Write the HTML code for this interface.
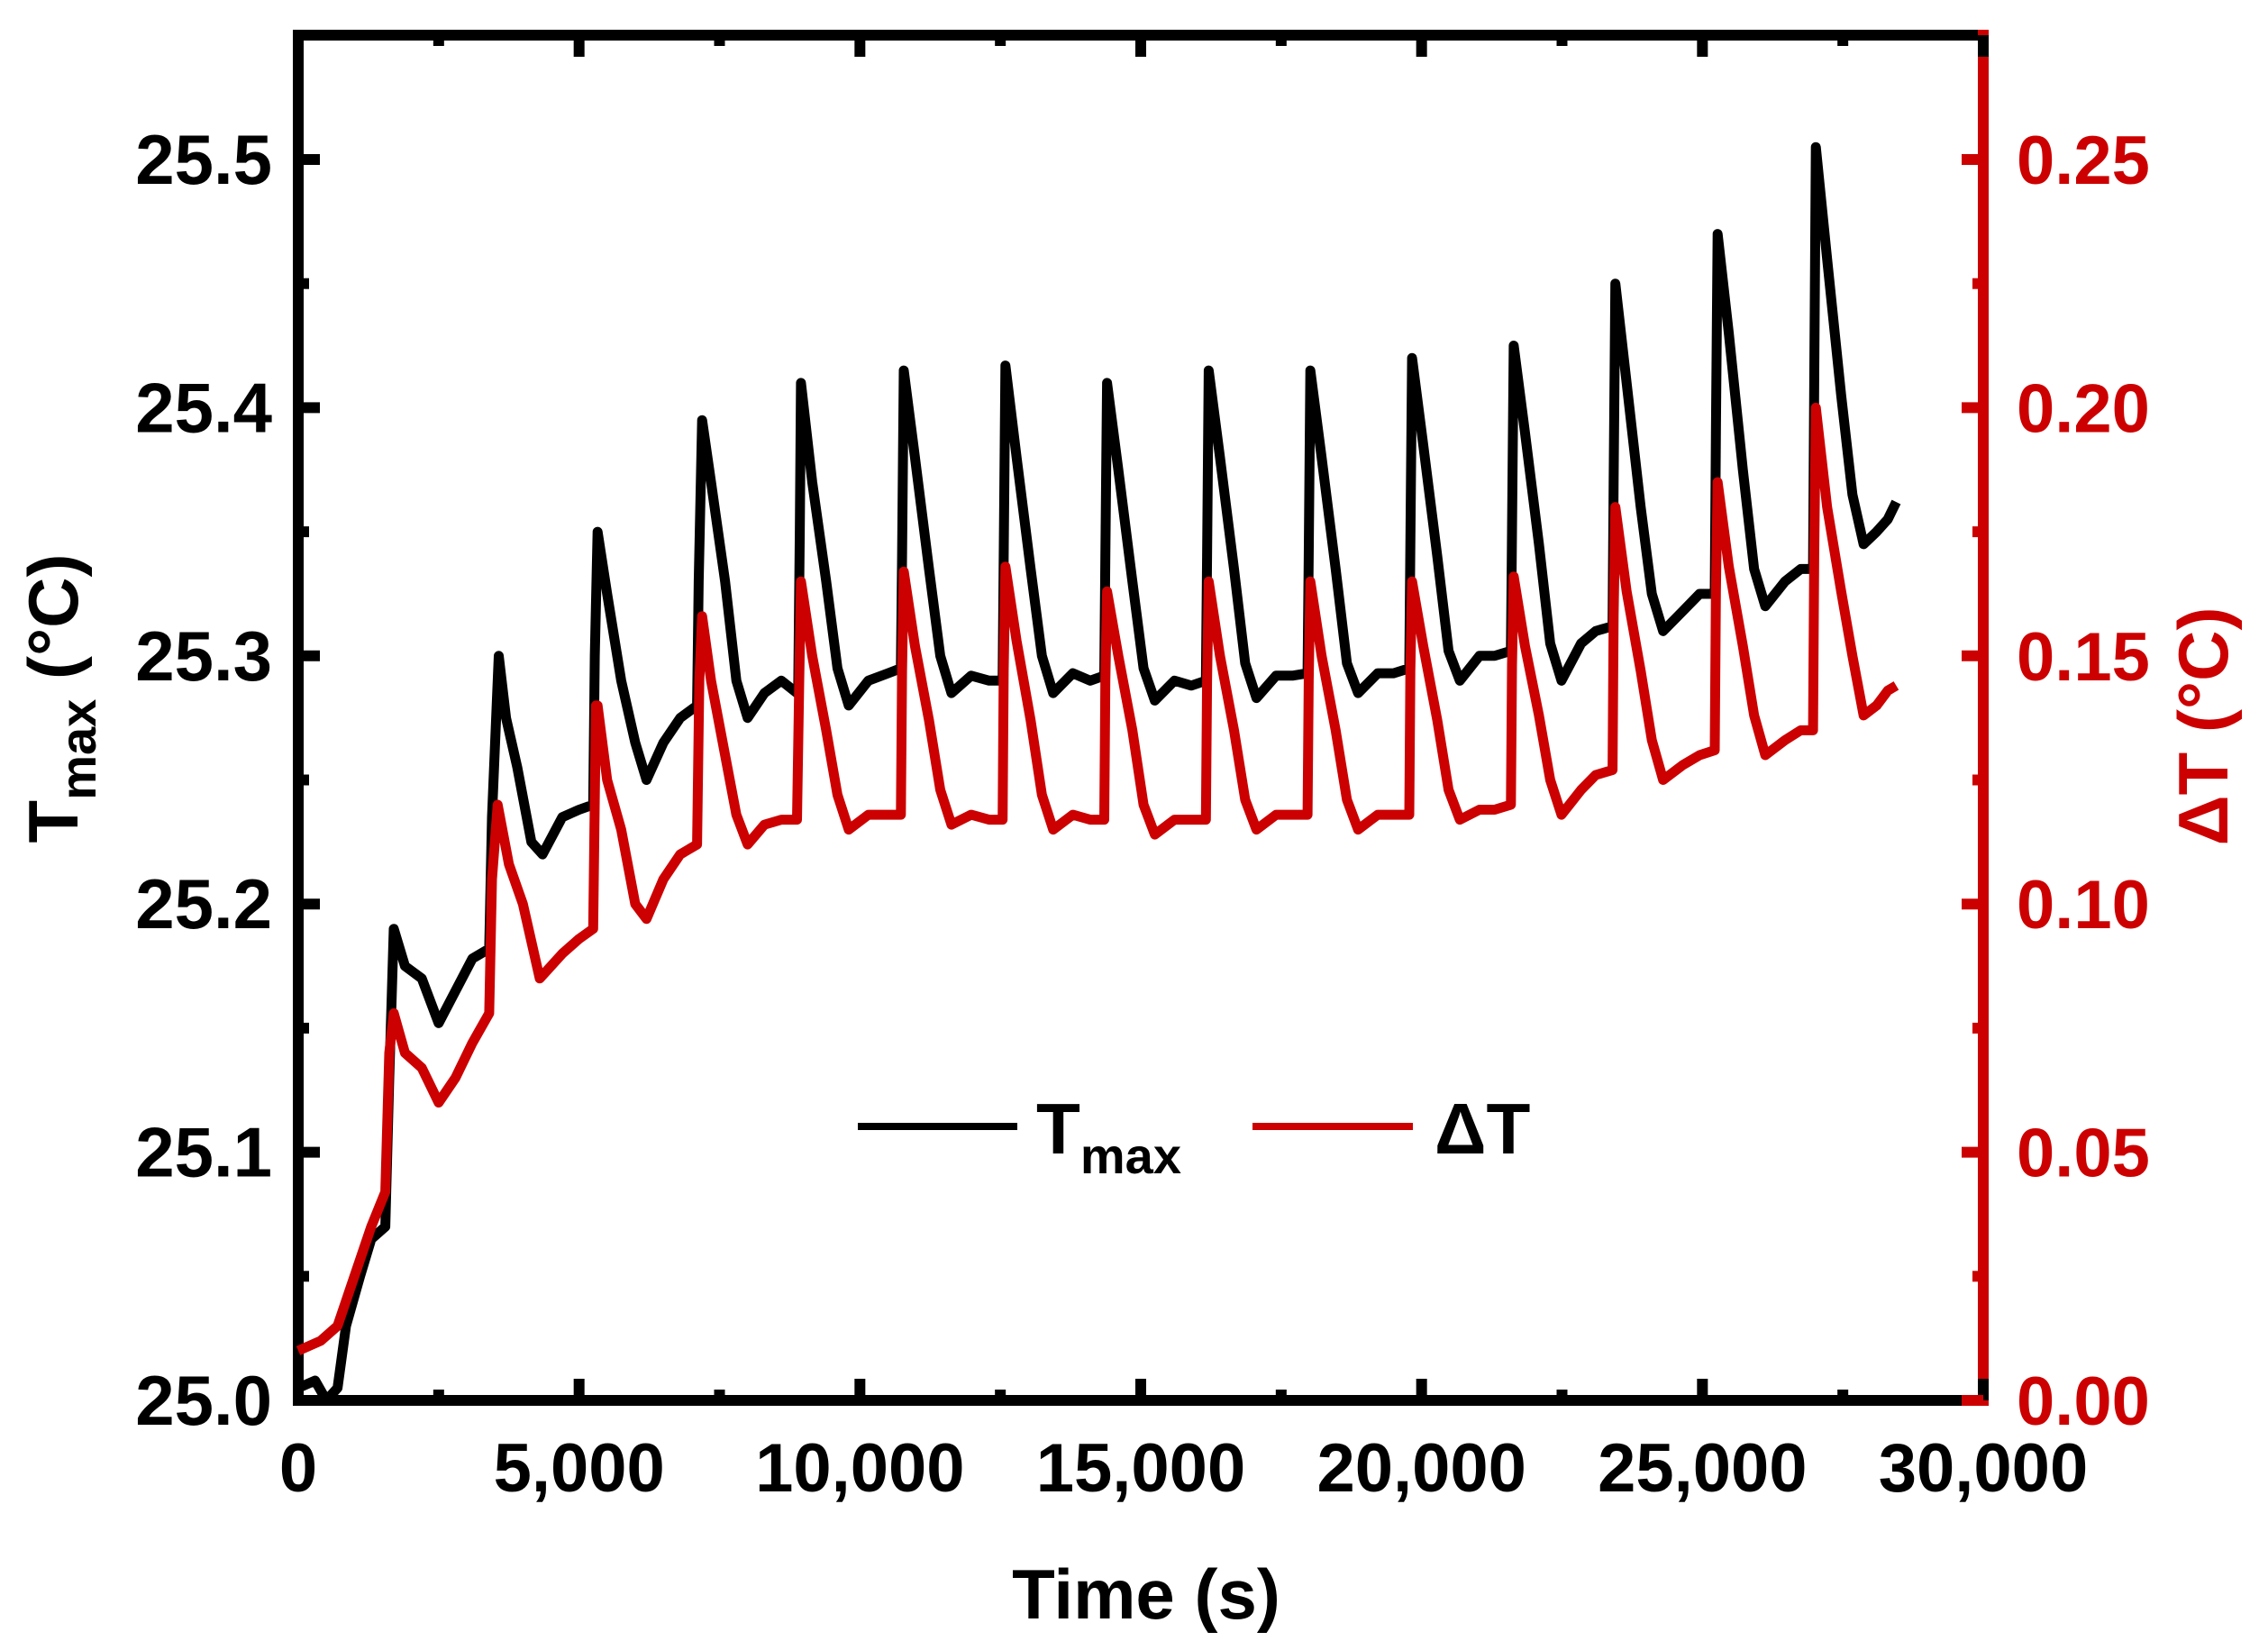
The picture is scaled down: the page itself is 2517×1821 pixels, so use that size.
<!DOCTYPE html>
<html><head><meta charset="utf-8"><style>
html,body{margin:0;padding:0;background:#fff}
svg{display:block}
text{font-family:"Liberation Sans",Arial,sans-serif;font-weight:bold}
</style></head><body>
<svg id="chart" width="2517" height="1821" viewBox="0 0 2517 1821" xmlns="http://www.w3.org/2000/svg">
<g id="grid-layer"></g>
<g id="data-layer"></g>
<g>
<line x1="952" y1="1250" x2="1129" y2="1250" stroke="#000" stroke-width="8"/>
<text x="1150" y="1280" font-size="80">T<tspan font-size="56" dy="22">max</tspan></text>
<line x1="1390" y1="1250" x2="1568" y2="1250" stroke="#cc0000" stroke-width="8"/>
<text x="1592" y="1280" font-size="80">ΔT</text>
</g>
<text x="1272" y="1796" font-size="78" text-anchor="middle">Time (s)</text>
<text transform="translate(86,775) rotate(-90)" font-size="78" text-anchor="middle">T<tspan font-size="56" dy="20">max</tspan><tspan dy="-20"> (°C)</tspan></text>
<text transform="translate(2472,806) rotate(-90)" font-size="78" text-anchor="middle" fill="#cc0000">ΔT (°C)</text>
</svg>
<script>
const xTicks=[0,5000,10000,15000,20000,25000,30000];
const xTickLabels=["0","5,000","10,000","15,000","20,000","25,000","30,000"];
const leftTicks=[25.0,25.1,25.2,25.3,25.4,25.5];
const leftTickLabels=["25.0","25.1","25.2","25.3","25.4","25.5"];
const rightTicks=[0,0.05,0.10,0.15,0.20,0.25];
const rightTickLabels=["0.00","0.05","0.10","0.15","0.20","0.25"];
const tmaxTimes=[0,300,500,700,850,1100,1300,1550,1620,1700,1900,2200,2500,2800,3100,3400,3450,3570,3700,3900,4150,4350,4700,5000,5250,5280,5330,5500,5750,6000,6200,6500,6800,7100,7130,7190,7350,7600,7800,8000,8300,8600,8880,
8900,8930,8950,9150,9400,9600,9800,10150,10500,10730,
10750,10780,10980,11230,11430,11630,11980,12300,12540,
12560,12590,12790,13040,13240,13440,13790,14100,14350,
14370,14400,14600,14850,15050,15250,15600,15900,16160,
16180,16210,16410,16660,16860,17060,17410,17700,17970,
17990,18020,18220,18470,18670,18870,19220,19500,19780,
19800,19830,20030,20280,20480,20680,21030,21300,21590,
21610,21640,21840,22090,22290,22490,22840,23100,23400,
23420,23450,23650,23900,24100,24300,24650,24950,25220,
25240,25270,25470,25720,25920,26120,26470,26750,26970,
26990,27020,27220,27470,27670,27870,28100,28300,28450];
const tmaxValues=[25.005,25.008,25.0,25.005,25.03,25.05,25.065,25.07,25.13,25.19,25.175,25.17,25.152,25.165,25.178,25.182,25.235,25.30,25.275,25.255,25.225,25.22,25.235,25.238,25.24,25.30,25.35,25.325,25.29,25.265,25.25,25.265,25.275,25.28,25.33,25.395,25.37,25.33,25.29,25.275,25.285,25.29,25.285,
25.285,25.35,25.41,25.37,25.33,25.295,25.28,25.29,25.293,25.295,
25.34,25.415,25.38,25.335,25.3,25.285,25.292,25.29,25.29,
25.34,25.417,25.38,25.335,25.3,25.285,25.293,25.29,25.292,
25.34,25.41,25.375,25.33,25.295,25.282,25.29,25.288,25.29,
25.34,25.415,25.38,25.335,25.297,25.283,25.292,25.292,25.293,
25.34,25.415,25.38,25.335,25.297,25.285,25.293,25.293,25.295,
25.345,25.42,25.385,25.34,25.302,25.29,25.3,25.3,25.302,
25.35,25.425,25.39,25.345,25.305,25.29,25.305,25.31,25.312,
25.37,25.45,25.41,25.36,25.325,25.31,25.318,25.325,25.325,
25.39,25.47,25.43,25.375,25.335,25.32,25.33,25.335,25.335,
25.41,25.505,25.46,25.405,25.365,25.345,25.35,25.355,25.362];
const dtTimes=[0,400,700,1000,1300,1550,1620,1700,1900,2200,2500,2800,3100,3400,3450,3550,3750,4000,4300,4700,5000,5250,5300,5330,5500,5750,6000,6200,6500,6800,7100,7140,7190,7350,7600,7800,8000,8300,8600,8880,
8920,8950,9150,9400,9600,9800,10150,10500,10730,
10750,10780,10980,11230,11430,11630,11980,12300,12540,
12560,12590,12790,13040,13240,13440,13790,14100,14350,
14370,14400,14600,14850,15050,15250,15600,15900,16160,
16180,16210,16410,16660,16860,17060,17410,17700,17970,
17990,18020,18220,18470,18670,18870,19220,19500,19780,
19800,19830,20030,20280,20480,20680,21030,21300,21590,
21610,21640,21840,22090,22290,22490,22840,23100,23400,
23420,23450,23650,23900,24100,24300,24650,24950,25220,
25240,25270,25470,25720,25920,26120,26470,26750,26970,
26990,27020,27220,27470,27670,27870,28100,28300,28450];
const dtValues=[0.01,0.012,0.015,0.025,0.035,0.042,0.07,0.078,0.07,0.067,0.06,0.065,0.072,0.078,0.105,0.12,0.108,0.1,0.085,0.09,0.093,0.095,0.14,0.14,0.125,0.115,0.1,0.097,0.105,0.11,0.112,0.145,0.158,0.145,0.13,0.118,0.112,0.116,0.117,0.117,
0.145,0.165,0.15,0.135,0.122,0.115,0.118,0.118,0.118,
0.147,0.167,0.152,0.137,0.123,0.116,0.118,0.117,0.117,
0.147,0.168,0.153,0.137,0.122,0.115,0.118,0.117,0.117,
0.145,0.163,0.15,0.135,0.12,0.114,0.117,0.117,0.117,
0.145,0.165,0.15,0.135,0.121,0.115,0.118,0.118,0.118,
0.145,0.165,0.15,0.135,0.121,0.115,0.118,0.118,0.118,
0.147,0.165,0.152,0.137,0.123,0.117,0.119,0.119,0.12,
0.148,0.166,0.152,0.138,0.125,0.118,0.123,0.126,0.127,
0.158,0.18,0.163,0.147,0.133,0.125,0.128,0.13,0.131,
0.163,0.185,0.168,0.152,0.138,0.13,0.133,0.135,0.135,
0.17,0.2,0.18,0.163,0.15,0.138,0.14,0.143,0.144];

const X0=331,X1=2201,YB=1554,YT=39;
function xS(t){return X0+(t-0)/30000*(X1-X0);}
function yL(v){return YB-(v-25.0)/0.5*1377;}
function yR(d){return YB-d/0.25*1377;}
const NS="http://www.w3.org/2000/svg";
const axes=document.getElementById('grid-layer');
const data=document.getElementById('data-layer');
function mk(tag,attrs,parent){const e=document.createElementNS(NS,tag);for(const k in attrs)e.setAttribute(k,attrs[k]);parent.appendChild(e);return e;}

function pathFrom(ts,vs,f){let d='';for(let i=0;i<ts.length;i++){d+=(i?'L':'M')+xS(ts[i]).toFixed(1)+','+f(vs[i]).toFixed(1);}return d;}
const pT=mk('path',{d:pathFrom(tmaxTimes,tmaxValues,yL),fill:'none',stroke:'#000','stroke-width':11,'stroke-linejoin':'round'},data);


const pD=mk('path',{d:pathFrom(dtTimes,dtValues,yR),fill:'none',stroke:'#cc0000','stroke-width':11,'stroke-linejoin':'round'},data);



const f1=mk('line',{x1:X0,y1:YT,x2:X1,y2:YT,stroke:'#000','stroke-width':12},axes);


const f2=mk('line',{x1:X0,y1:YB,x2:X1,y2:YB,stroke:'#000','stroke-width':12},axes);


const f3=mk('line',{x1:X0,y1:YT-6,x2:X0,y2:YB+6,stroke:'#000','stroke-width':12},axes);


const f4=mk('line',{x1:X1,y1:YT-6,x2:X1,y2:YB+6,stroke:'#cc0000','stroke-width':12},axes);



for(let t=0;t<=30000;t+=2500){
  const major=t%5000===0,len=major?24:12,x=xS(t);
  const a=mk('line',{x1:x,y1:YB,x2:x,y2:YB-len,stroke:'#000','stroke-width':12},axes);
  
  
  const b=mk('line',{x1:x,y1:YT,x2:x,y2:YT+len,stroke:'#000','stroke-width':12},axes);
  
  
}
xTicks.forEach((t,i)=>{
  const e=mk('text',{x:xS(t),y:1655,'font-size':76,'text-anchor':'middle'},axes);
  e.textContent=xTickLabels[i];
  
  
});
for(let k=0;k<=10;k++){
  const v=25+k*0.05,major=k%2===0,len=major?24:12,y=yL(v);
  const a=mk('line',{x1:X0,y1:y,x2:X0+len,y2:y,stroke:'#000','stroke-width':12},axes);
  
  
  const d=k*0.025,yr=yR(d);
  const b=mk('line',{x1:X1,y1:yr,x2:X1-len,y2:yr,stroke:'#cc0000','stroke-width':12},axes);
  
  
}
leftTicks.forEach((v,i)=>{
  const e=mk('text',{x:302,y:yL(v)+27,'font-size':78,'text-anchor':'end'},axes);
  e.textContent=leftTickLabels[i];
  
  
});
rightTicks.forEach((v,i)=>{
  const e=mk('text',{x:2238,y:yR(v)+27,'font-size':76,'text-anchor':'start',fill:'#cc0000'},axes);
  e.textContent=rightTickLabels[i];
  
  
});
</script>
</body></html>
